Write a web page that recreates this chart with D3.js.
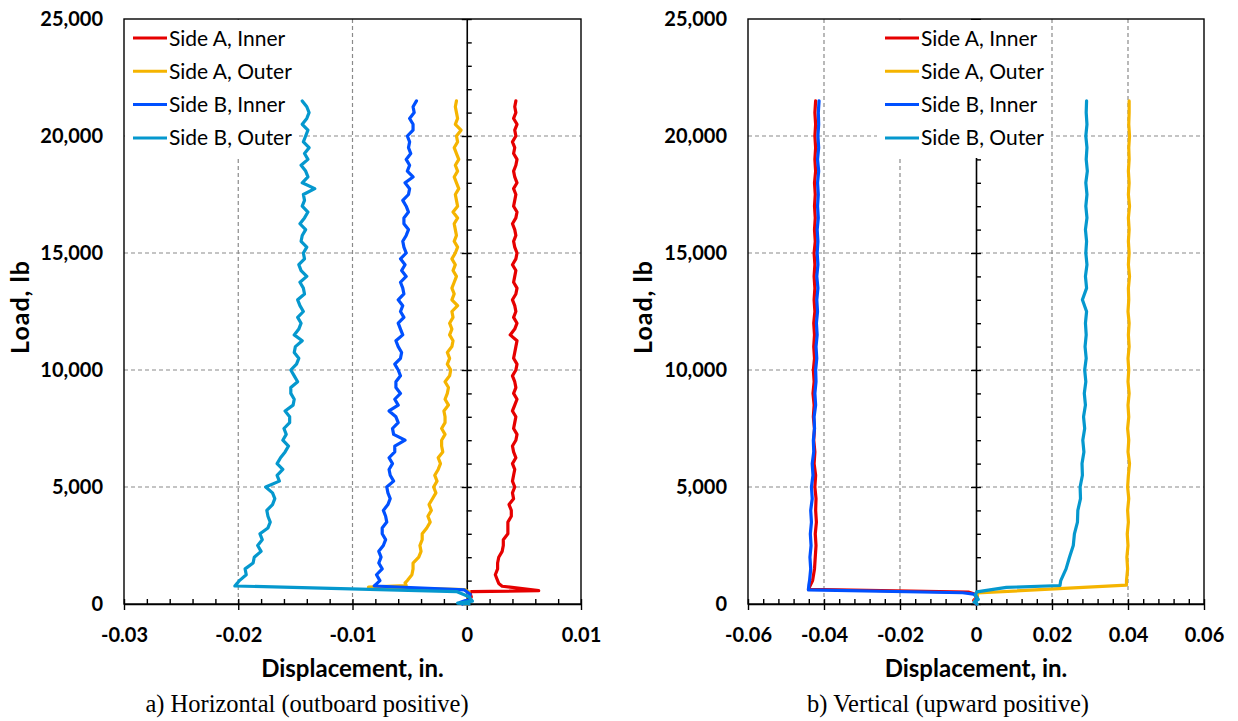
<!DOCTYPE html>
<html>
<head>
<meta charset="utf-8">
<title>Load vs displacement</title>
<script src="https://cdn.jsdelivr.net/npm/d3@7"></script>
<style>
  body { margin: 0; background: #fff; }
  svg text { fill: #000; }
  .grid line { stroke: #8a8a8a; stroke-width: 1.2px; stroke-dasharray: 4,3; }
  .curve { fill: none; stroke-width: 3.2px; stroke-linejoin: round; stroke-linecap: round; }
</style>
</head>
<body>
<div id="chart"></div>
<script>
// series names + colours
var names = ["Side A, Inner", "Side A, Outer", "Side B, Inner", "Side B, Outer"];
var colors = ["#E60000", "#F5B400", "#0050FF", "#0598CE"];

// y tick labels (load, lb)
var loadTicks = [0, 5000, 10000, 15000, 20000, 25000];

// ---- a) Horizontal ----
var hTicks = [-0.03, -0.02, -0.01, 0, 0.01];
var loadsH = [1000,1250,1500,1750,2000,2250,2500,2750,3000,3250,
  3500,3750,4000,4250,4500,4750,5000,5250,5500,5750,
  6000,6250,6500,6750,7000,7250,7500,7750,8000,8250,
  8500,8750,9000,9250,9500,9750,10000,10250,10500,10750,
  11000,11250,11500,11750,12000,12250,12500,12750,13000,13250,
  13500,13750,14000,14250,14500,14750,15000,15250,15500,15750,
  16000,16250,16500,16750,17000,17250,17500,17750,18000,18250,
  18500,18750,19000,19250,19500,19750,20000,20250,20500,20750,
  21000,21250,21500];

// [disp, load] before 1000 lb
var hAIstart = [[0.0001,0],[0.0002,150],[0.0004,300],[0.0003,450],[0.0004,530],[0.0063,570],[0.0031,760],[0.0028,880]];
var hAOstart = [[0.0000,0],[0.0003,180],[0.0001,350],[0.0002,520],[-0.0002,620],[-0.0086,720],[-0.0053,790],[-0.0054,900]];
var hBIstart = [[-0.0004,0],[-0.0006,60],[0.0002,200],[0.0003,420],[-0.0002,600],[-0.0081,770],[-0.0079,860]];
var hBOstart = [[0.0002,0],[-0.0008,40],[0.0005,120],[0.0002,310],[-0.0009,530],[-0.0203,770],[-0.0201,880]];

var hAI = [0.0027,0.0025,0.0027,0.0027,0.0028,0.0031,0.0032,0.0032,0.0036,0.0036,
  0.0036,0.0039,0.0039,0.0037,0.0041,0.0040,0.0042,0.0040,0.0041,0.0042,
  0.0040,0.0043,0.0041,0.0040,0.0043,0.0044,0.0041,0.0042,0.0043,0.0040,
  0.0042,0.0044,0.0041,0.0043,0.0042,0.0040,0.0043,0.0044,0.0041,0.0042,
  0.0043,0.0044,0.0038,0.0042,0.0044,0.0041,0.0043,0.0042,0.0040,0.0043,
  0.0044,0.0041,0.0042,0.0043,0.0040,0.0043,0.0044,0.0042,0.0041,0.0043,
  0.0042,0.0040,0.0043,0.0044,0.0041,0.0042,0.0043,0.0041,0.0044,0.0042,
  0.0041,0.0043,0.0044,0.0041,0.0042,0.0040,0.0043,0.0042,0.0044,0.0041,
  0.0043,0.0042,0.0043];
var hAO = [-0.0052,-0.0048,-0.0047,-0.0047,-0.0042,-0.0040,-0.0041,-0.0039,-0.0039,-0.0035,
  -0.0032,-0.0034,-0.0031,-0.0033,-0.0030,-0.0027,-0.0029,-0.0026,-0.0028,-0.0025,
  -0.0023,-0.0025,-0.0021,-0.0022,-0.0022,-0.0019,-0.0022,-0.0019,-0.0019,-0.0020,
  -0.0016,-0.0019,-0.0017,-0.0016,-0.0019,-0.0015,-0.0014,-0.0017,-0.0015,-0.0017,
  -0.0013,-0.0012,-0.0015,-0.0013,-0.0015,-0.0012,-0.0013,-0.0008,-0.0013,-0.0011,
  -0.0013,-0.0011,-0.0009,-0.0012,-0.0010,-0.0013,-0.0010,-0.0008,-0.0011,-0.0009,
  -0.0010,-0.0011,-0.0008,-0.0012,-0.0008,-0.0009,-0.0010,-0.0007,-0.0009,-0.0011,
  -0.0008,-0.0010,-0.0007,-0.0009,-0.0011,-0.0008,-0.0009,-0.0005,-0.0010,-0.0008,
  -0.0009,-0.0010,-0.0009];
var hBI = [-0.0076,-0.0079,-0.0074,-0.0077,-0.0075,-0.0077,-0.0073,-0.0071,-0.0074,-0.0074,
  -0.0070,-0.0071,-0.0073,-0.0069,-0.0067,-0.0069,-0.0070,-0.0064,-0.0067,-0.0068,
  -0.0065,-0.0068,-0.0063,-0.0063,-0.0054,-0.0064,-0.0065,-0.0060,-0.0062,-0.0068,
  -0.0060,-0.0063,-0.0058,-0.0062,-0.0062,-0.0058,-0.0060,-0.0063,-0.0058,-0.0057,
  -0.0060,-0.0062,-0.0056,-0.0058,-0.0060,-0.0055,-0.0058,-0.0056,-0.0060,-0.0055,
  -0.0056,-0.0058,-0.0053,-0.0057,-0.0054,-0.0058,-0.0053,-0.0055,-0.0056,-0.0053,
  -0.0051,-0.0055,-0.0055,-0.0051,-0.0053,-0.0056,-0.0051,-0.0050,-0.0054,-0.0047,
  -0.0052,-0.0050,-0.0053,-0.0049,-0.0051,-0.0050,-0.0052,-0.0047,-0.0047,-0.0050,
  -0.0046,-0.0047,-0.0044];
var hBO = [-0.0199,-0.0193,-0.0194,-0.0187,-0.0186,-0.0180,-0.0183,-0.0179,-0.0181,-0.0174,
  -0.0172,-0.0174,-0.0175,-0.0170,-0.0168,-0.0170,-0.0176,-0.0164,-0.0166,-0.0161,
  -0.0166,-0.0163,-0.0159,-0.0156,-0.0161,-0.0158,-0.0160,-0.0155,-0.0155,-0.0159,
  -0.0152,-0.0151,-0.0154,-0.0154,-0.0148,-0.0151,-0.0154,-0.0149,-0.0147,-0.0151,
  -0.0150,-0.0144,-0.0151,-0.0147,-0.0145,-0.0148,-0.0143,-0.0146,-0.0148,-0.0142,
  -0.0143,-0.0146,-0.0140,-0.0145,-0.0147,-0.0142,-0.0143,-0.0140,-0.0145,-0.0144,
  -0.0141,-0.0146,-0.0142,-0.0139,-0.0144,-0.0142,-0.0143,-0.0133,-0.0144,-0.0139,
  -0.0141,-0.0145,-0.0139,-0.0142,-0.0138,-0.0143,-0.0141,-0.0139,-0.0144,-0.0140,
  -0.0138,-0.0140,-0.0144];

// ---- b) Vertical ----
var vTicks = [-0.06, -0.04, -0.02, 0, 0.02, 0.04, 0.06];
var loadsV = [1000,1500,2000,2500,3000,3500,4000,4500,5000,5500,
  6000,6500,7000,7500,8000,8500,9000,9500,10000,10500,
  11000,11500,12000,12500,13000,13500,14000,14500,15000,15500,
  16000,16500,17000,17500,18000,18500,19000,19500,20000,20500,
  21000,21500];

var vAIstart = [[0,0],[-0.0006,150],[0.0003,300],[-0.0004,430],[-0.0020,510],[-0.0441,630],[-0.0436,800]];
var vAOstart = [[0.0002,0],[-0.0003,150],[0.0004,320],[0.0003,470],[0.0396,810]];
var vBIstart = [[0.0001,0],[-0.0002,120],[0.0002,300],[-0.0006,420],[-0.0035,480],[-0.0441,600],[-0.0440,800]];
var vBOstart = [[0.0003,0],[-0.0005,80],[0.0006,200],[-0.0002,360],[0.0002,520],[0.0080,710],[0.0221,790]];

var vAI = [-0.0430,-0.0425,-0.0423,-0.0421,-0.0423,-0.0420,-0.0422,-0.0421,-0.0424,-0.0422,
  -0.0426,-0.0424,-0.0427,-0.0425,-0.0428,-0.0426,-0.0429,-0.0426,-0.0428,-0.0425,
  -0.0427,-0.0425,-0.0427,-0.0424,-0.0426,-0.0424,-0.0426,-0.0424,-0.0426,-0.0423,
  -0.0425,-0.0423,-0.0425,-0.0423,-0.0425,-0.0422,-0.0424,-0.0422,-0.0424,-0.0422,
  -0.0424,-0.0422];
var vAO = [0.0396,0.0399,0.0397,0.0400,0.0398,0.0401,0.0399,0.0402,0.0399,0.0401,
  0.0404,0.0400,0.0402,0.0399,0.0402,0.0400,0.0403,0.0400,0.0402,0.0400,
  0.0403,0.0401,0.0403,0.0400,0.0402,0.0401,0.0404,0.0401,0.0403,0.0401,
  0.0403,0.0401,0.0404,0.0401,0.0403,0.0401,0.0403,0.0402,0.0404,0.0402,
  0.0403,0.0403];
var vBI = [-0.0438,-0.0435,-0.0437,-0.0434,-0.0436,-0.0433,-0.0435,-0.0431,-0.0433,-0.0429,
  -0.0431,-0.0427,-0.0428,-0.0425,-0.0426,-0.0422,-0.0424,-0.0421,-0.0422,-0.0419,
  -0.0421,-0.0418,-0.0420,-0.0417,-0.0419,-0.0416,-0.0419,-0.0416,-0.0418,-0.0416,
  -0.0418,-0.0415,-0.0417,-0.0415,-0.0417,-0.0414,-0.0417,-0.0414,-0.0416,-0.0414,
  -0.0415,-0.0413];
var vBO = [0.0223,0.0237,0.0246,0.0256,0.0259,0.0267,0.0268,0.0275,0.0274,0.0280,
  0.0279,0.0284,0.0281,0.0286,0.0283,0.0288,0.0285,0.0289,0.0286,0.0290,
  0.0287,0.0290,0.0288,0.0291,0.0280,0.0291,0.0288,0.0292,0.0289,0.0291,
  0.0288,0.0292,0.0289,0.0292,0.0289,0.0293,0.0290,0.0292,0.0289,0.0292,
  0.0290,0.0291];

function join(start, loads, vals) {
  return start.concat(loads.map(function(L, i) { return [vals[i], L]; }));
}

var width = 1238, height = 721;
var svg = d3.select("#chart").append("svg")
  .attr("width", width).attr("height", height)
  .attr("font-family", "Lato, 'Open Sans', sans-serif");

var panels = [
  { x0: 124, x1: 581, domain: [-0.03, 0.01], ticks: hTicks, minor: 0.002,
    series: [join(hAIstart, loadsH, hAI), join(hAOstart, loadsH, hAO), join(hBIstart, loadsH, hBI), join(hBOstart, loadsH, hBO)],
    legend: { x: 125, w: 174, h: 136 }, titleX: 20, capX: 307,
    caption: "a) Horizontal (outboard positive)" },
  { x0: 748, x1: 1204, domain: [-0.06, 0.06], ticks: vTicks, minor: 0.004,
    series: [join(vAIstart, loadsV, vAI), join(vAOstart, loadsV, vAO), join(vBIstart, loadsV, vBI), join(vBOstart, loadsV, vBO)],
    legend: { x: 877, w: 174, h: 138 }, titleX: 643, capX: 948,
    caption: "b) Vertical (upward positive)" }
];

var y0 = 19, y1 = 604;
var y = d3.scaleLinear().domain([0, 25000]).range([y1, y0]);
var loadMinor = d3.range(0, 25001, 1000);

panels.forEach(function(p) {
  var x = d3.scaleLinear().domain(p.domain).range([p.x0, p.x1]);
  var g = svg.append("g");
  var xMinor = d3.range(p.domain[0], p.domain[1] + 1e-9, p.minor).map(function(v) { return +v.toFixed(4); });

  // gridlines
  var grid = g.append("g").attr("class", "grid");
  grid.selectAll(".gx").data(p.ticks.filter(function(t) { return t !== 0 && t !== p.domain[0] && t !== p.domain[1]; }))
    .enter().append("line")
    .attr("x1", function(d) { return x(d); }).attr("x2", function(d) { return x(d); })
    .attr("y1", y0).attr("y2", y1);
  grid.selectAll(".gy").data(loadTicks.slice(1, -1))
    .enter().append("line")
    .attr("x1", p.x0).attr("x2", p.x1)
    .attr("y1", function(d) { return y(d); }).attr("y2", function(d) { return y(d); });

  // plot border
  g.append("rect").attr("x", p.x0).attr("y", y0)
    .attr("width", p.x1 - p.x0).attr("height", y1 - y0)
    .attr("fill", "none").attr("stroke", "#000").attr("stroke-width", 1.4);

  // x axis (bottom, at load 0)
  g.append("g").attr("transform", "translate(0," + y1 + ")")
    .call(d3.axisBottom(x).tickValues(p.ticks).tickSize(6).tickSizeOuter(0).tickPadding(18)
      .tickFormat(function(d) { return d === 0 ? "0" : String(+d.toFixed(2)); }));
  g.append("g").attr("transform", "translate(0," + y1 + ")")
    .call(d3.axisTop(x).tickValues(xMinor).tickSize(5).tickFormat(""))
    .select(".domain").remove();

  // y axis line at displacement 0
  g.append("g").attr("transform", "translate(" + x(0) + ",0)")
    .call(d3.axisLeft(y).tickValues(loadTicks).tickSize(5).tickSizeOuter(0).tickFormat(""));
  g.append("g").attr("transform", "translate(" + x(0) + ",0)")
    .call(d3.axisRight(y).tickValues(loadMinor).tickSize(5).tickFormat(""))
    .select(".domain").remove();

  // y tick labels at plot's left edge
  var yl = g.append("g").attr("transform", "translate(" + p.x0 + ",0)")
    .call(d3.axisLeft(y).tickValues(loadTicks).tickSize(0).tickPadding(21).tickFormat(d3.format(",")));
  yl.select(".domain").remove();

  g.selectAll(".tick line").attr("stroke", "#000").attr("stroke-width", 1.4);
  g.selectAll(".domain").attr("stroke", "#000").attr("stroke-width", 1.6);
  g.selectAll(".tick text").attr("font-family", "Lato, sans-serif")
    .attr("font-size", 20).attr("font-weight", "bold").attr("fill", "#000");

  // curves
  var line = d3.line().x(function(d) { return x(d[0]); }).y(function(d) { return y(d[1]); });
  g.selectAll(".curve").data(p.series).enter().append("path")
    .attr("class", "curve")
    .attr("stroke", function(d, i) { return colors[i]; })
    .attr("d", line);

  // titles
  g.append("text").attr("x", (p.x0 + p.x1) / 2).attr("y", 677)
    .attr("text-anchor", "middle").attr("font-size", 24).attr("font-weight", "bold")
    .text("Displacement, in.");
  g.append("text").attr("transform", "translate(" + (p.titleX + 9) + "," + 307 + ") rotate(-90)")
    .attr("text-anchor", "middle").attr("font-size", 25).attr("font-weight", "bold")
    .attr("letter-spacing", 1).text("Load, lb");
  g.append("text").attr("x", p.capX).attr("y", 712)
    .attr("text-anchor", "middle").attr("font-family", "'Liberation Serif', 'Times New Roman', serif")
    .attr("font-size", 24.5).text(p.caption);

  // legend
  var lg = g.append("g");
  lg.append("rect").attr("x", p.legend.x).attr("y", y0 + 1)
    .attr("width", p.legend.w).attr("height", p.legend.h).attr("fill", "#fff");
  var items = lg.selectAll(".item").data(names).enter().append("g")
    .attr("transform", function(d, i) { return "translate(" + (p.legend.x + 8) + "," + (38 + i * 33.3) + ")"; });
  items.append("line").attr("x1", 0).attr("x2", 34).attr("y1", 0).attr("y2", 0)
    .attr("stroke", function(d, i) { return colors[i]; }).attr("stroke-width", 3);
  items.append("text").attr("x", 36).attr("dy", "0.36em")
    .attr("font-size", 21).text(function(d) { return d; });
});
</script>
</body>
</html>
